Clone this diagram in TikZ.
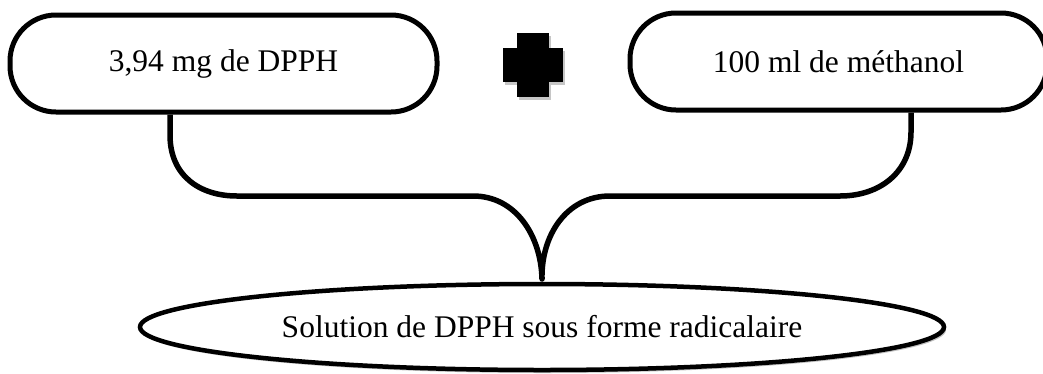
\documentclass[tikz,border=0pt]{standalone}
\usepackage{fontspec}
\setmainfont{Liberation Serif}
\usetikzlibrary{shapes.geometric}
\begin{document}
\begin{tikzpicture}[x=1pt,y=-1pt,
  every node/.style={font=\fontsize{31.5}{36}\selectfont, text=black},
  pill/.style={draw=black, line width=5pt, fill=white, rounded corners=46pt, minimum height=97pt, inner sep=0pt},
  oval/.style={ellipse, draw=black, line width=4.5pt, fill=white, minimum width=804pt, minimum height=86pt, inner sep=0pt},
  brace/.style={draw=black, line width=5.5pt, line join=round, line cap=butt},
  crossshape/.style={fill=black},
]
\useasboundingbox (0,0) rectangle (1043,373);
% boxes
\node[pill, minimum width=427pt] (lbox) at (223.5,63.5) {3,94 mg de DPPH};
\node[pill, minimum width=417pt] (rbox) at (838.5,61.5) {100 ml de méthanol};
% plus sign
\fill[gray!45] (519,36) rectangle (551,100);
\fill[gray!45] (505,51) rectangle (565,85);
\fill[black] (517,33) rectangle (549,97);
\fill[black] (503,48) rectangle (563,82);
\node[inner sep=0pt] (plus) at (533,65) {};
% ellipse with shadow
\node[ellipse, fill=gray!50, minimum width=804pt, minimum height=86pt, inner sep=0pt] (shad) at (544,330) {};
\node[oval] (sol) at (542,327) {Solution de DPPH sous forme radicalaire};
% brace
\coordinate (bl) at (lbox.south -| 170,0);
\coordinate (br) at (rbox.south -| 911,0);
\coordinate (tip) at (sol.north);
\draw[brace] (bl) -- (170,135) .. controls (170,176) and (200,196) .. (237,196)
  -- (473,196) .. controls (516,196) and (541,236) .. (tip |- 0,279)
  .. controls (541,236) and (566,196) .. (610,196)
  -- (840,196) .. controls (880,196) and (911,172) .. (911,132) -- (br);
\end{tikzpicture}
\end{document}
